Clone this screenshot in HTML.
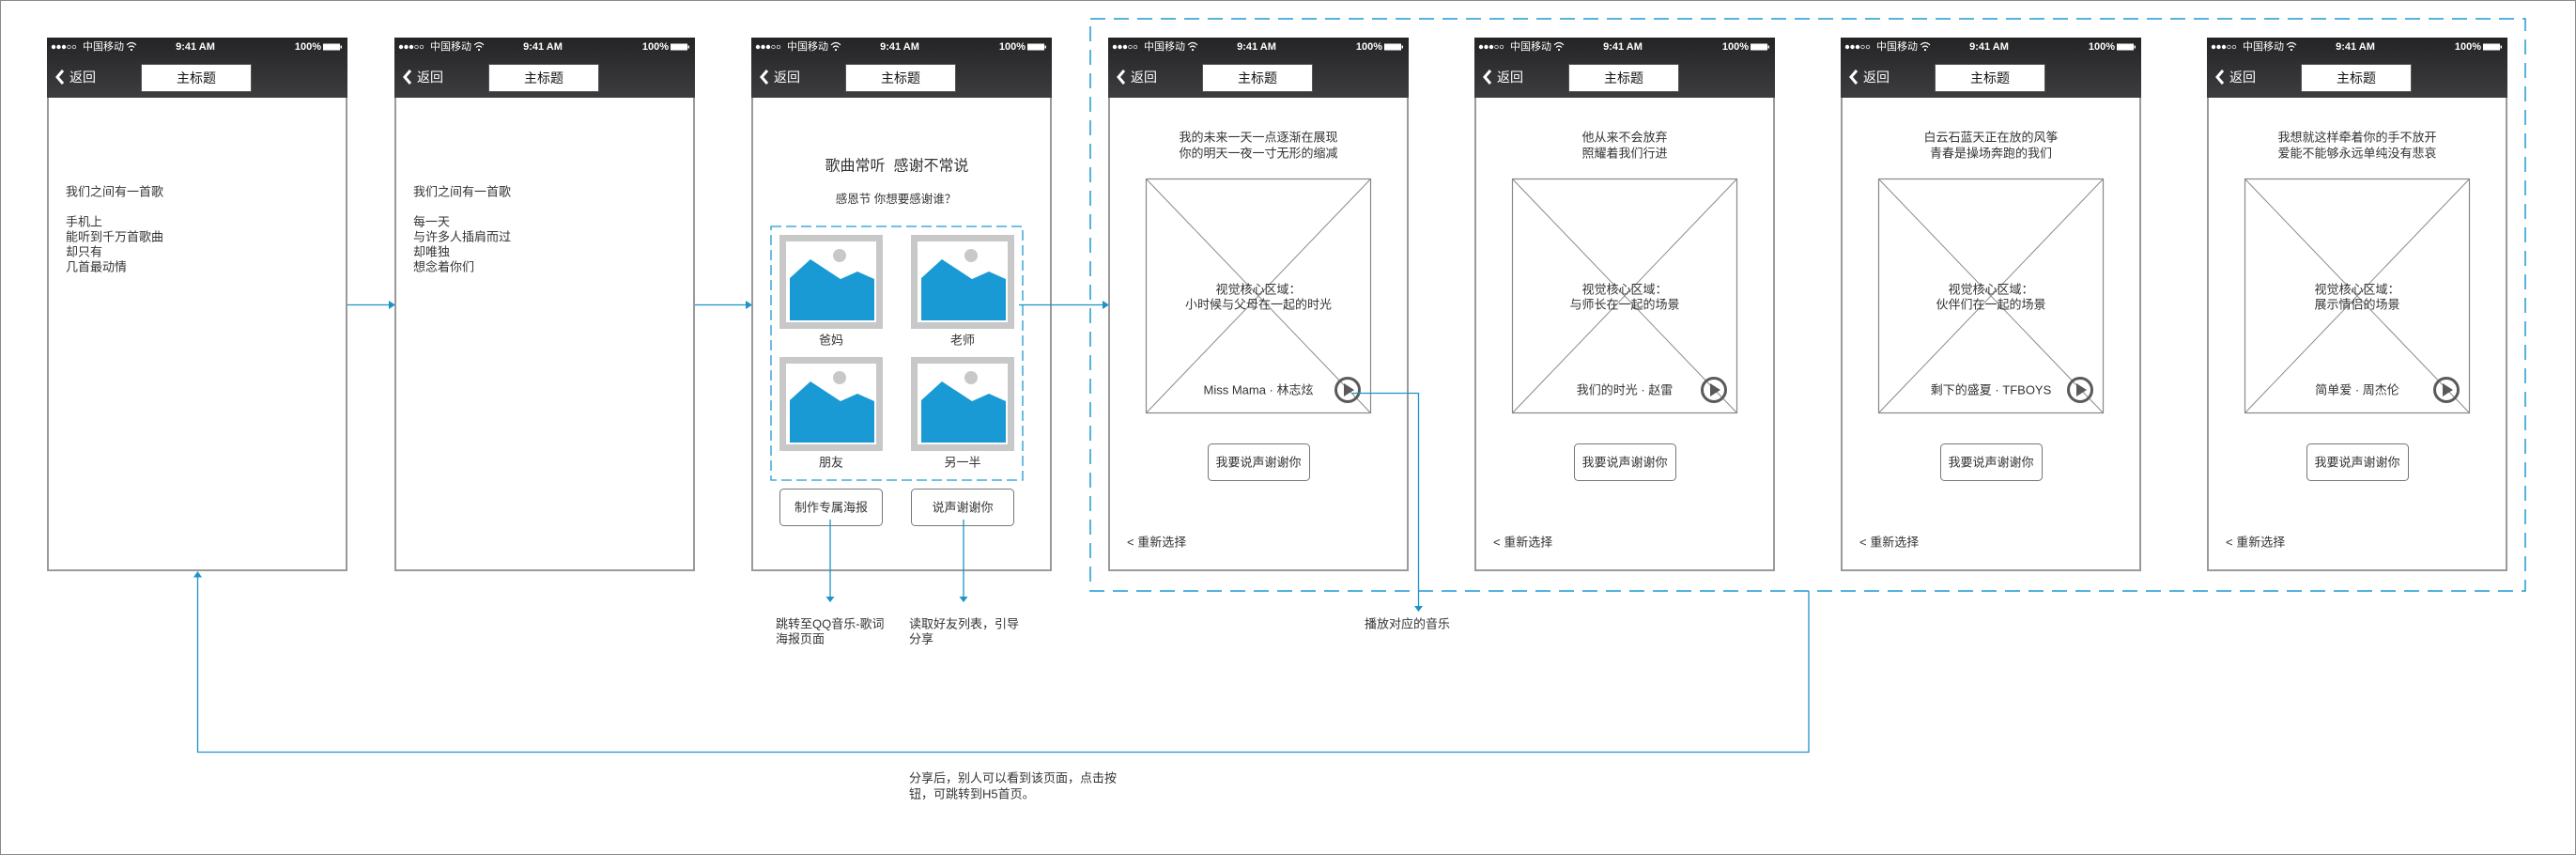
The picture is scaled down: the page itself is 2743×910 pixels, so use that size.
<!DOCTYPE html>
<html><head><meta charset="utf-8">
<style>
html,body{margin:0;padding:0;background:#fff;}
svg{display:block;}
text{font-family:"Liberation Sans","Noto Sans CJK SC",sans-serif;dominant-baseline:central;fill:#333;}
.t13{font-size:13px;}
.st{font-size:11px;fill:#fff;}
.stb{font-size:11px;fill:#fff;font-weight:bold;}
.nav{font-size:14px;fill:#fff;}
.ttl{font-size:14px;fill:#111;}
.mid{text-anchor:middle;}
</style></head>
<body>
<svg width="2743" height="910" viewBox="0 0 2743 910" xmlns="http://www.w3.org/2000/svg">
<defs>
<linearGradient id="hdr" x1="0" y1="0" x2="0" y2="1">
<stop offset="0" stop-color="#242426"/><stop offset="1" stop-color="#3d3d3f"/>
</linearGradient>
</defs>
<rect x="0.5" y="0.5" width="2742" height="909" fill="#fff" stroke="#8a8a8a" stroke-width="1"/>

<!-- outer dashed box -->
<rect x="1161" y="20" width="1528" height="609" fill="none" stroke="#1f9ad2" stroke-width="1.5" stroke-dasharray="16 9"/>

<!-- ===== phone bodies ===== -->
<g fill="#fff" stroke="#9a9a9a" stroke-width="2">
<rect x="51" y="41" width="318" height="566"/>
<rect x="421" y="41" width="318" height="566"/>
<rect x="801" y="41" width="318" height="566"/>
<rect x="1181" y="41" width="318" height="566"/>
<rect x="1571" y="41" width="318" height="566"/>
<rect x="1961" y="41" width="318" height="566"/>
<rect x="2351" y="41" width="318" height="566"/>
</g>

<!-- ===== headers ===== -->
<!-- phone 1 X=50 -->
<g>
<rect x="50" y="40" width="320" height="64" fill="url(#hdr)"/>
<circle cx="57" cy="50" r="2.2" fill="#fff"/><circle cx="62.5" cy="50" r="2.2" fill="#fff"/><circle cx="68" cy="50" r="2.2" fill="#fff"/>
<circle cx="73.5" cy="50" r="1.8" fill="none" stroke="#fff" stroke-width="0.7"/><circle cx="79" cy="50" r="1.8" fill="none" stroke="#fff" stroke-width="0.7"/>
<text x="88" y="50" class="st">中国移动</text>
<path d="M135 48 q5 -5 10 0 M137 50.5 q3 -3 6 0" stroke="#fff" stroke-width="1.2" fill="none"/><circle cx="140" cy="53" r="1.1" fill="#fff"/>
<text x="208" y="50" class="stb mid">9:41 AM</text>
<text x="342" y="50" class="stb" text-anchor="end">100%</text>
<rect x="344" y="46.5" width="18" height="7" fill="#fff"/><rect x="362.5" y="48.5" width="1.5" height="3" fill="#fff"/>
<polyline points="67,75 61,82 67,89" fill="none" stroke="#fff" stroke-width="3"/>
<text x="74" y="82" class="nav">返回</text>
<rect x="150.5" y="68.5" width="117" height="29" fill="#fff" stroke="#555" stroke-width="1"/>
<text x="209" y="83" class="ttl mid">主标题</text>
</g>
<!-- phone 2 X=420 -->
<g>
<rect x="420" y="40" width="320" height="64" fill="url(#hdr)"/>
<circle cx="427" cy="50" r="2.2" fill="#fff"/><circle cx="432.5" cy="50" r="2.2" fill="#fff"/><circle cx="438" cy="50" r="2.2" fill="#fff"/>
<circle cx="443.5" cy="50" r="1.8" fill="none" stroke="#fff" stroke-width="0.7"/><circle cx="449" cy="50" r="1.8" fill="none" stroke="#fff" stroke-width="0.7"/>
<text x="458" y="50" class="st">中国移动</text>
<path d="M505 48 q5 -5 10 0 M507 50.5 q3 -3 6 0" stroke="#fff" stroke-width="1.2" fill="none"/><circle cx="510" cy="53" r="1.1" fill="#fff"/>
<text x="578" y="50" class="stb mid">9:41 AM</text>
<text x="712" y="50" class="stb" text-anchor="end">100%</text>
<rect x="714" y="46.5" width="18" height="7" fill="#fff"/><rect x="732.5" y="48.5" width="1.5" height="3" fill="#fff"/>
<polyline points="437,75 431,82 437,89" fill="none" stroke="#fff" stroke-width="3"/>
<text x="444" y="82" class="nav">返回</text>
<rect x="520.5" y="68.5" width="117" height="29" fill="#fff" stroke="#555" stroke-width="1"/>
<text x="579" y="83" class="ttl mid">主标题</text>
</g>
<!-- phone 3 X=800 -->
<g>
<rect x="800" y="40" width="320" height="64" fill="url(#hdr)"/>
<circle cx="807" cy="50" r="2.2" fill="#fff"/><circle cx="812.5" cy="50" r="2.2" fill="#fff"/><circle cx="818" cy="50" r="2.2" fill="#fff"/>
<circle cx="823.5" cy="50" r="1.8" fill="none" stroke="#fff" stroke-width="0.7"/><circle cx="829" cy="50" r="1.8" fill="none" stroke="#fff" stroke-width="0.7"/>
<text x="838" y="50" class="st">中国移动</text>
<path d="M885 48 q5 -5 10 0 M887 50.5 q3 -3 6 0" stroke="#fff" stroke-width="1.2" fill="none"/><circle cx="890" cy="53" r="1.1" fill="#fff"/>
<text x="958" y="50" class="stb mid">9:41 AM</text>
<text x="1092" y="50" class="stb" text-anchor="end">100%</text>
<rect x="1094" y="46.5" width="18" height="7" fill="#fff"/><rect x="1112.5" y="48.5" width="1.5" height="3" fill="#fff"/>
<polyline points="817,75 811,82 817,89" fill="none" stroke="#fff" stroke-width="3"/>
<text x="824" y="82" class="nav">返回</text>
<rect x="900.5" y="68.5" width="117" height="29" fill="#fff" stroke="#555" stroke-width="1"/>
<text x="959" y="83" class="ttl mid">主标题</text>
</g>
<!-- phone 4 X=1180 -->
<g>
<rect x="1180" y="40" width="320" height="64" fill="url(#hdr)"/>
<circle cx="1187" cy="50" r="2.2" fill="#fff"/><circle cx="1192.5" cy="50" r="2.2" fill="#fff"/><circle cx="1198" cy="50" r="2.2" fill="#fff"/>
<circle cx="1203.5" cy="50" r="1.8" fill="none" stroke="#fff" stroke-width="0.7"/><circle cx="1209" cy="50" r="1.8" fill="none" stroke="#fff" stroke-width="0.7"/>
<text x="1218" y="50" class="st">中国移动</text>
<path d="M1265 48 q5 -5 10 0 M1267 50.5 q3 -3 6 0" stroke="#fff" stroke-width="1.2" fill="none"/><circle cx="1270" cy="53" r="1.1" fill="#fff"/>
<text x="1338" y="50" class="stb mid">9:41 AM</text>
<text x="1472" y="50" class="stb" text-anchor="end">100%</text>
<rect x="1474" y="46.5" width="18" height="7" fill="#fff"/><rect x="1492.5" y="48.5" width="1.5" height="3" fill="#fff"/>
<polyline points="1197,75 1191,82 1197,89" fill="none" stroke="#fff" stroke-width="3"/>
<text x="1204" y="82" class="nav">返回</text>
<rect x="1280.5" y="68.5" width="117" height="29" fill="#fff" stroke="#555" stroke-width="1"/>
<text x="1339" y="83" class="ttl mid">主标题</text>
</g>
<!-- phone 5 X=1570 -->
<g>
<rect x="1570" y="40" width="320" height="64" fill="url(#hdr)"/>
<circle cx="1577" cy="50" r="2.2" fill="#fff"/><circle cx="1582.5" cy="50" r="2.2" fill="#fff"/><circle cx="1588" cy="50" r="2.2" fill="#fff"/>
<circle cx="1593.5" cy="50" r="1.8" fill="none" stroke="#fff" stroke-width="0.7"/><circle cx="1599" cy="50" r="1.8" fill="none" stroke="#fff" stroke-width="0.7"/>
<text x="1608" y="50" class="st">中国移动</text>
<path d="M1655 48 q5 -5 10 0 M1657 50.5 q3 -3 6 0" stroke="#fff" stroke-width="1.2" fill="none"/><circle cx="1660" cy="53" r="1.1" fill="#fff"/>
<text x="1728" y="50" class="stb mid">9:41 AM</text>
<text x="1862" y="50" class="stb" text-anchor="end">100%</text>
<rect x="1864" y="46.5" width="18" height="7" fill="#fff"/><rect x="1882.5" y="48.5" width="1.5" height="3" fill="#fff"/>
<polyline points="1587,75 1581,82 1587,89" fill="none" stroke="#fff" stroke-width="3"/>
<text x="1594" y="82" class="nav">返回</text>
<rect x="1670.5" y="68.5" width="117" height="29" fill="#fff" stroke="#555" stroke-width="1"/>
<text x="1729" y="83" class="ttl mid">主标题</text>
</g>
<!-- phone 6 X=1960 -->
<g>
<rect x="1960" y="40" width="320" height="64" fill="url(#hdr)"/>
<circle cx="1967" cy="50" r="2.2" fill="#fff"/><circle cx="1972.5" cy="50" r="2.2" fill="#fff"/><circle cx="1978" cy="50" r="2.2" fill="#fff"/>
<circle cx="1983.5" cy="50" r="1.8" fill="none" stroke="#fff" stroke-width="0.7"/><circle cx="1989" cy="50" r="1.8" fill="none" stroke="#fff" stroke-width="0.7"/>
<text x="1998" y="50" class="st">中国移动</text>
<path d="M2045 48 q5 -5 10 0 M2047 50.5 q3 -3 6 0" stroke="#fff" stroke-width="1.2" fill="none"/><circle cx="2050" cy="53" r="1.1" fill="#fff"/>
<text x="2118" y="50" class="stb mid">9:41 AM</text>
<text x="2252" y="50" class="stb" text-anchor="end">100%</text>
<rect x="2254" y="46.5" width="18" height="7" fill="#fff"/><rect x="2272.5" y="48.5" width="1.5" height="3" fill="#fff"/>
<polyline points="1977,75 1971,82 1977,89" fill="none" stroke="#fff" stroke-width="3"/>
<text x="1984" y="82" class="nav">返回</text>
<rect x="2060.5" y="68.5" width="117" height="29" fill="#fff" stroke="#555" stroke-width="1"/>
<text x="2119" y="83" class="ttl mid">主标题</text>
</g>
<!-- phone 7 X=2350 -->
<g>
<rect x="2350" y="40" width="320" height="64" fill="url(#hdr)"/>
<circle cx="2357" cy="50" r="2.2" fill="#fff"/><circle cx="2362.5" cy="50" r="2.2" fill="#fff"/><circle cx="2368" cy="50" r="2.2" fill="#fff"/>
<circle cx="2373.5" cy="50" r="1.8" fill="none" stroke="#fff" stroke-width="0.7"/><circle cx="2379" cy="50" r="1.8" fill="none" stroke="#fff" stroke-width="0.7"/>
<text x="2388" y="50" class="st">中国移动</text>
<path d="M2435 48 q5 -5 10 0 M2437 50.5 q3 -3 6 0" stroke="#fff" stroke-width="1.2" fill="none"/><circle cx="2440" cy="53" r="1.1" fill="#fff"/>
<text x="2508" y="50" class="stb mid">9:41 AM</text>
<text x="2642" y="50" class="stb" text-anchor="end">100%</text>
<rect x="2644" y="46.5" width="18" height="7" fill="#fff"/><rect x="2662.5" y="48.5" width="1.5" height="3" fill="#fff"/>
<polyline points="2367,75 2361,82 2367,89" fill="none" stroke="#fff" stroke-width="3"/>
<text x="2374" y="82" class="nav">返回</text>
<rect x="2450.5" y="68.5" width="117" height="29" fill="#fff" stroke="#555" stroke-width="1"/>
<text x="2509" y="83" class="ttl mid">主标题</text>
</g>

<!-- ===== phone 1 & 2 content ===== -->
<g>
<text x="70" y="204" class="t13">我们之间有一首歌</text>
<text x="70" y="236" class="t13">手机上</text>
<text x="70" y="252" class="t13">能听到千万首歌曲</text>
<text x="70" y="268" class="t13">却只有</text>
<text x="70" y="284" class="t13">几首最动情</text>
<text x="440" y="204" class="t13">我们之间有一首歌</text>
<text x="440" y="236" class="t13">每一天</text>
<text x="440" y="252" class="t13">与许多人插肩而过</text>
<text x="440" y="268" class="t13">却唯独</text>
<text x="440" y="284" class="t13">想念着你们</text>
</g>

<!-- ===== phone 3 content ===== -->
<text x="955" y="177" class="mid" style="font-size:16px">歌曲常听&#160;&#160;感谢不常说</text>
<text x="954" y="212" class="mid" style="font-size:12.5px">感恩节 你想要感谢谁？</text>
<rect x="821" y="241" width="268" height="270" fill="none" stroke="#1f9ad2" stroke-width="1.3" stroke-dasharray="11 5"/>
<g>
<rect x="830" y="250" width="110" height="100" fill="#c8c8c8"/>
<rect x="837" y="257" width="96" height="86" fill="#fff"/>
<polygon points="841,296 863,276 895,297 913,289 931,297 931,341 841,341" fill="#1a9ad4"/>
<circle cx="894" cy="272" r="7" fill="#c8c8c8"/>
</g>
<g>
<rect x="970" y="250" width="110" height="100" fill="#c8c8c8"/>
<rect x="977" y="257" width="96" height="86" fill="#fff"/>
<polygon points="981,296 1003,276 1035,297 1053,289 1071,297 1071,341 981,341" fill="#1a9ad4"/>
<circle cx="1034" cy="272" r="7" fill="#c8c8c8"/>
</g>
<g>
<rect x="830" y="380" width="110" height="100" fill="#c8c8c8"/>
<rect x="837" y="387" width="96" height="86" fill="#fff"/>
<polygon points="841,426 863,406 895,427 913,419 931,427 931,471 841,471" fill="#1a9ad4"/>
<circle cx="894" cy="402" r="7" fill="#c8c8c8"/>
</g>
<g>
<rect x="970" y="380" width="110" height="100" fill="#c8c8c8"/>
<rect x="977" y="387" width="96" height="86" fill="#fff"/>
<polygon points="981,426 1003,406 1035,427 1053,419 1071,427 1071,471 981,471" fill="#1a9ad4"/>
<circle cx="1034" cy="402" r="7" fill="#c8c8c8"/>
</g>
<text x="885" y="362" class="t13 mid">爸妈</text>
<text x="1025" y="362" class="t13 mid">老师</text>
<text x="885" y="492" class="t13 mid">朋友</text>
<text x="1025" y="492" class="t13 mid">另一半</text>
<rect x="830.5" y="520.5" width="109" height="39" rx="4" fill="#fff" stroke="#777" stroke-width="1"/>
<rect x="970.5" y="520.5" width="109" height="39" rx="4" fill="#fff" stroke="#777" stroke-width="1"/>
<text x="885" y="540" class="t13 mid">制作专属海报</text>
<text x="1025" y="540" class="t13 mid">说声谢谢你</text>

<!-- ===== phones 4-7 content ===== -->
<text x="1340" y="146" class="t13 mid">我的未来一天一点逐渐在展现</text>
<text x="1340" y="163" class="t13 mid">你的明天一夜一寸无形的缩减</text>
<rect x="1220.5" y="190.5" width="239" height="249" fill="#fff" stroke="#888" stroke-width="1.2"/>
<path d="M1221 191 L1459 439 M1459 191 L1221 439" stroke="#8a8a8a" stroke-width="1"/>
<text x="1340" y="308" class="t13 mid">视觉核心区域：</text>
<text x="1340" y="324" class="t13 mid">小时候与父母在一起的时光</text>
<text x="1340" y="415" class="t13 mid">Miss Mama · 林志炫</text>
<rect x="1286.5" y="472.5" width="108" height="39" rx="4" fill="#fff" stroke="#777" stroke-width="1"/>
<text x="1340" y="492" class="t13 mid">我要说声谢谢你</text>
<text x="1200" y="577" class="t13">&lt; 重新选择</text>

<text x="1730" y="146" class="t13 mid">他从来不会放弃</text>
<text x="1730" y="163" class="t13 mid">照耀着我们行进</text>
<rect x="1610.5" y="190.5" width="239" height="249" fill="#fff" stroke="#888" stroke-width="1.2"/>
<path d="M1611 191 L1849 439 M1849 191 L1611 439" stroke="#8a8a8a" stroke-width="1"/>
<text x="1730" y="308" class="t13 mid">视觉核心区域：</text>
<text x="1730" y="324" class="t13 mid">与师长在一起的场景</text>
<text x="1730" y="415" class="t13 mid">我们的时光 · 赵雷</text>
<rect x="1676.5" y="472.5" width="108" height="39" rx="4" fill="#fff" stroke="#777" stroke-width="1"/>
<text x="1730" y="492" class="t13 mid">我要说声谢谢你</text>
<text x="1590" y="577" class="t13">&lt; 重新选择</text>

<text x="2120" y="146" class="t13 mid">白云石蓝天正在放的风筝</text>
<text x="2120" y="163" class="t13 mid">青春是操场奔跑的我们</text>
<rect x="2000.5" y="190.5" width="239" height="249" fill="#fff" stroke="#888" stroke-width="1.2"/>
<path d="M2001 191 L2239 439 M2239 191 L2001 439" stroke="#8a8a8a" stroke-width="1"/>
<text x="2120" y="308" class="t13 mid">视觉核心区域：</text>
<text x="2120" y="324" class="t13 mid">伙伴们在一起的场景</text>
<text x="2120" y="415" class="t13 mid">剩下的盛夏 · TFBOYS</text>
<rect x="2066.5" y="472.5" width="108" height="39" rx="4" fill="#fff" stroke="#777" stroke-width="1"/>
<text x="2120" y="492" class="t13 mid">我要说声谢谢你</text>
<text x="1980" y="577" class="t13">&lt; 重新选择</text>

<text x="2510" y="146" class="t13 mid">我想就这样牵着你的手不放开</text>
<text x="2510" y="163" class="t13 mid">爱能不能够永远单纯没有悲哀</text>
<rect x="2390.5" y="190.5" width="239" height="249" fill="#fff" stroke="#888" stroke-width="1.2"/>
<path d="M2391 191 L2629 439 M2629 191 L2391 439" stroke="#8a8a8a" stroke-width="1"/>
<text x="2510" y="308" class="t13 mid">视觉核心区域：</text>
<text x="2510" y="324" class="t13 mid">展示情侣的场景</text>
<text x="2510" y="415" class="t13 mid">简单爱 · 周杰伦</text>
<rect x="2456.5" y="472.5" width="108" height="39" rx="4" fill="#fff" stroke="#777" stroke-width="1"/>
<text x="2510" y="492" class="t13 mid">我要说声谢谢你</text>
<text x="2370" y="577" class="t13">&lt; 重新选择</text>

<!-- play icons -->
<g fill="none" stroke="#5a5a5a" stroke-width="3">
<circle cx="1435" cy="415" r="12.5"/>
<circle cx="1825" cy="415" r="12.5"/>
<circle cx="2215" cy="415" r="12.5"/>
<circle cx="2605" cy="415" r="12.5"/>
</g>
<g fill="#5a5a5a">
<polygon points="1431,408 1431,422 1442,415"/>
<polygon points="1821,408 1821,422 1832,415"/>
<polygon points="2211,408 2211,422 2222,415"/>
<polygon points="2601,408 2601,422 2612,415"/>
</g>

<!-- ===== connectors ===== -->
<g stroke="#1d93c8" stroke-width="1.3" fill="none">
<line x1="370" y1="324.5" x2="415" y2="324.5"/>
<line x1="740" y1="324.5" x2="795" y2="324.5"/>
<line x1="1085" y1="324.5" x2="1175" y2="324.5"/>
<line x1="884" y1="553" x2="884" y2="636"/>
<line x1="1026" y1="553" x2="1026" y2="636"/>
<polyline points="1440,418.5 1510.5,418.5 1510.5,646"/>
<polyline points="1926,629 1926,800.5 210.5,800.5 210.5,613"/>
</g>
<g fill="#1d93c8">
<polygon points="421,324.5 414,320 414,329"/>
<polygon points="801,324.5 794,320 794,329"/>
<polygon points="1181,324.5 1174,320 1174,329"/>
<polygon points="884,641 879.5,635 888.5,635"/>
<polygon points="1026,641 1021.5,635 1030.5,635"/>
<polygon points="1510.5,651 1506,645 1515,645"/>
<polygon points="210.5,608 206,614.5 215,614.5"/>
</g>

<!-- ===== notes ===== -->
<text x="826" y="664" class="t13">跳转至QQ音乐-歌词</text>
<text x="826" y="680" class="t13">海报页面</text>
<text x="968" y="664" class="t13">读取好友列表，引导</text>
<text x="968" y="680" class="t13">分享</text>
<text x="1453" y="664" class="t13">播放对应的音乐</text>
<text x="968" y="828" class="t13">分享后，别人可以看到该页面，点击按</text>
<text x="968" y="845" class="t13">钮，可跳转到H5首页。</text>
</svg>
</body></html>
